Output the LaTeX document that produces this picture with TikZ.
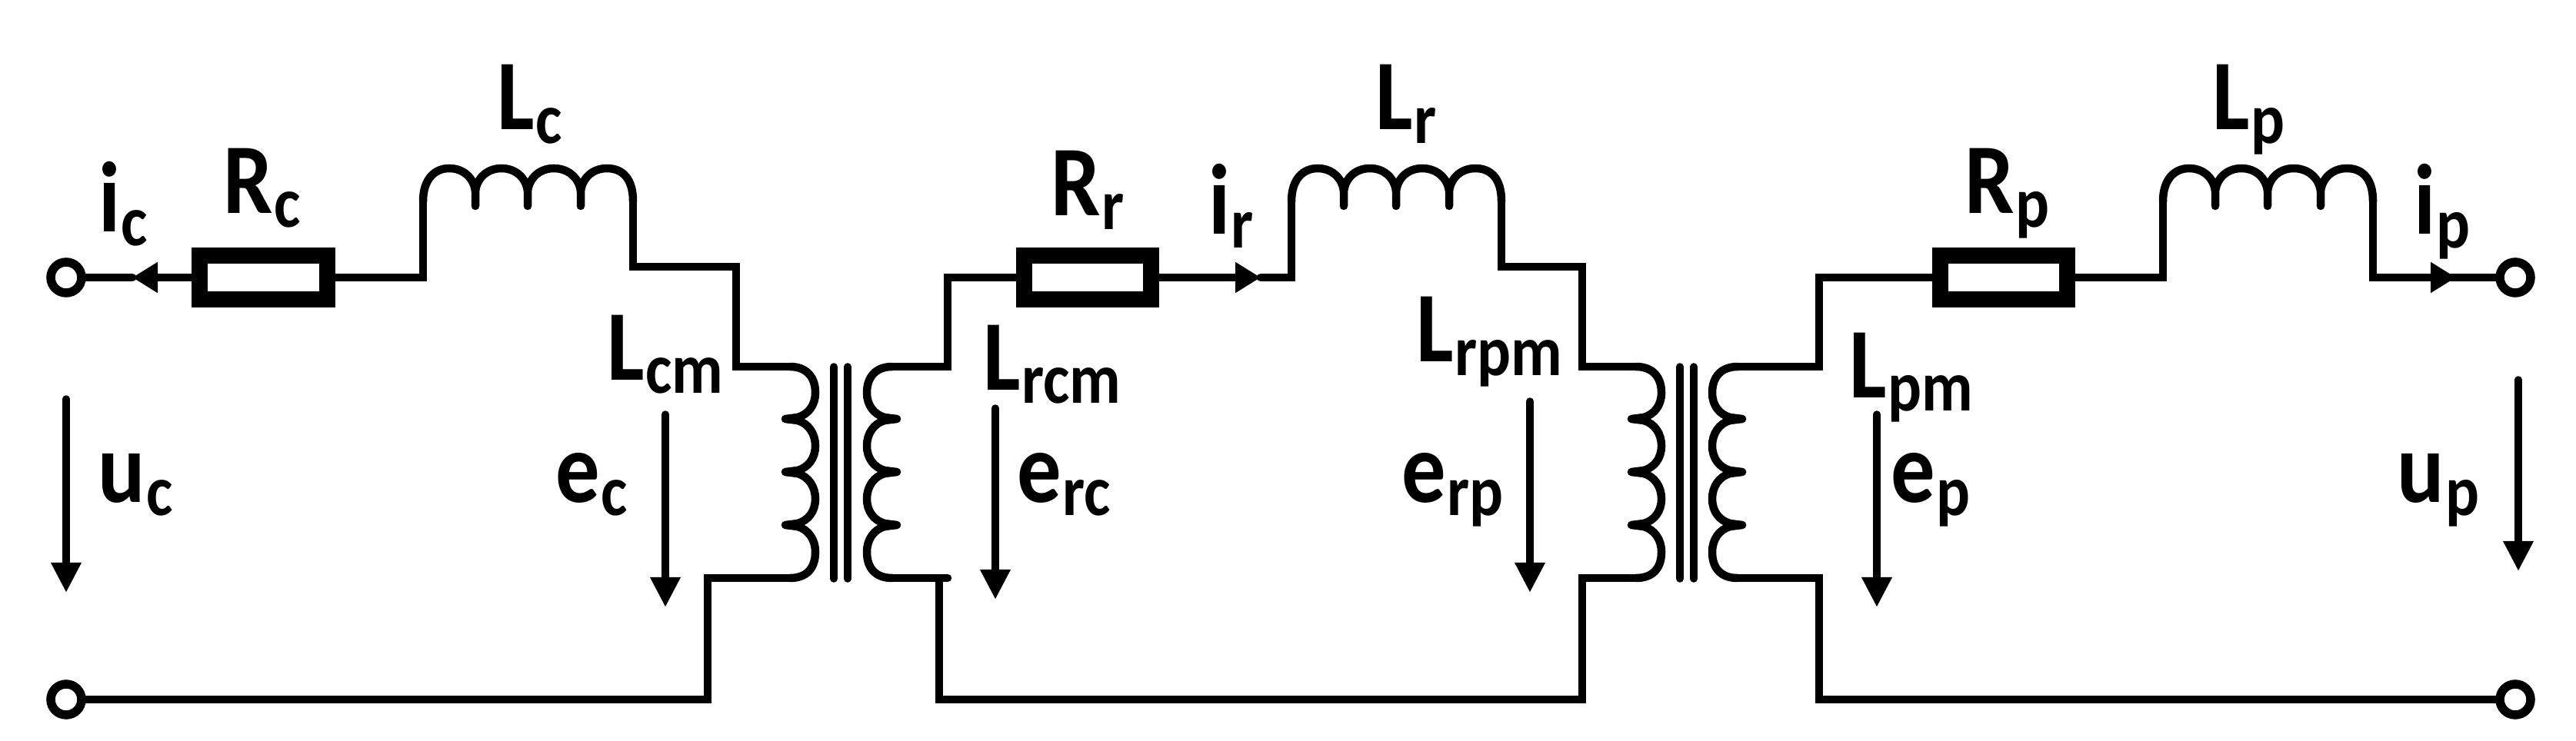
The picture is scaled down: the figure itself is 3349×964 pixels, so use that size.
\documentclass[tikz,border=0pt]{standalone}
\usepackage{fontspec}
\setmainfont{Carlito}
\usetikzlibrary{arrows.meta}
\newcommand\lbl[2]{\scalebox{0.88}[1]{\fontsize{37}{42}\selectfont\bfseries #1\kern0.02cm\raisebox{-0.17cm}{\fontsize{26.5}{30}\selectfont\bfseries #2}}}
\tikzset{
  wire/.style={line width=0.105cm,line join=miter,line cap=round},
  coilline/.style={line width=0.105cm,line join=round,line cap=round},
  term/.style={circle,draw,line width=0.115cm,minimum size=0.40cm,inner sep=0pt,fill=white},
  res/.style={rectangle,draw,line width=0.21cm,minimum width=1.65cm,minimum height=0.56cm,inner sep=0pt,fill=white},
  lab/.style={inner sep=0pt,outer sep=0pt,anchor=base west},
  volt/.style={line width=0.095cm,line cap=round,-{Triangle[length=0.39cm,width=0.37cm]}},
  cur/.style={line width=0.105cm,-{Triangle[length=0.33cm,width=0.38cm]}},
  core/.style={line width=0.095cm,line cap=round},
  coilh/.pic={
    \draw[coilline] (0,43) .. controls (0,13) and (16,0) .. (34,0) .. controls (52,0) and (66,12) .. (68,30) -- (68,49) -- (68,30)
      .. controls (70,12) and (84,0) .. (102,0) .. controls (120,0) and (134,12) .. (136,30) -- (136,49) -- (136,30)
      .. controls (138,12) and (152,0) .. (170,0) .. controls (188,0) and (203,12) .. (205,30) -- (205,49) -- (205,30)
      .. controls (207,12) and (221,0) .. (239,0) .. controls (259,0) and (273,13) .. (273,43);
    \coordinate (-in) at (0,43);
    \coordinate (-out) at (273,43);
  },
  coilv/.pic={
    \draw[coilline] (0,0) .. controls (21,0) and (33,13) .. (33,34) .. controls (33,50) and (24,62) .. (10,66) -- (-6,68) -- (10,70)
      .. controls (24,74) and (33,87) .. (33,103) .. controls (33,119) and (24,131) .. (10,135) -- (-6,137) -- (10,139)
      .. controls (24,143) and (33,156) .. (33,172) .. controls (33,188) and (24,200) .. (10,204) -- (-6,206) -- (10,208)
      .. controls (24,212) and (33,225) .. (33,241) .. controls (33,263) and (21,275) .. (0,275);
    \coordinate (-top) at (0,0);
    \coordinate (-bot) at (0,275);
  },
}
\begin{document}
\begin{tikzpicture}[x=0.01cm,y=-0.01cm]
\useasboundingbox (0,0) rectangle (3349,964);
% terminals
\coordinate (tlc) at (86,361);
\coordinate (blc) at (86,910);
\coordinate (trc) at (3270,361);
\coordinate (brc) at (3270,910);
% coils
\path (550,219) pic (Lc) {coilh};
\path (1679,219) pic (Lr) {coilh};
\path (2812,219) pic (Lp) {coilh};
\path (1027,477) pic (Lcm) {coilv};
\path (1160,477) pic[xscale=-1] (Lrcm) {coilv};
\path (2127,477) pic (Lrpm) {coilv};
\path (2259,477) pic[xscale=-1] (Lpm) {coilv};
% wire corners and arrow tips
\coordinate (ic) at (172,361);
\coordinate (ir) at (1639,361);
\coordinate (ip) at (3193,361);
\coordinate (a1) at (550,361);
\coordinate (a2) at (823,347);
\coordinate (a3) at (957,347);
\coordinate (a4) at (957,477);
\coordinate (b1) at (920,752);
\coordinate (b2) at (920,910);
\coordinate (c1) at (1232,477);
\coordinate (c2) at (1232,361);
\coordinate (c3) at (1679,361);
\coordinate (c4) at (1952,347);
\coordinate (c5) at (2057,347);
\coordinate (c6) at (2057,477);
\coordinate (d0) at (1232,752);
\coordinate (d1) at (1221,752);
\coordinate (d2) at (1221,910);
\coordinate (d3) at (2057,910);
\coordinate (d4) at (2057,752);
\coordinate (e1) at (2365,477);
\coordinate (e2) at (2365,361);
\coordinate (e3) at (2812,361);
\coordinate (e4) at (3085,361);
\coordinate (f1) at (2365,752);
\coordinate (f2) at (2365,910);
% wires
\draw[wire] (blc) -- (b2) -- (b1) -- (Lcm-bot);
\draw[wire] (Lc-in) -- (a1) -- (342,361);
\draw[wire] (Lc-out) -- (a2) -- (a3) -- (a4) -- (Lcm-top);
\draw[wire] (Lrcm-top) -- (c1) -- (c2) -- (1400,361);
\draw[wire] (Lrcm-bot) -- (d0);
\draw[wire] (d1) -- (d2) -- (d3) -- (d4) -- (Lrpm-bot);
\draw[wire] (ir) -- (c3) -- (Lr-in);
\draw[wire] (Lr-out) -- (c4) -- (c5) -- (c6) -- (Lrpm-top);
\draw[wire] (Lpm-top) -- (e1) -- (e2) -- (2600,361);
\draw[wire] (Lpm-bot) -- (f1) -- (f2) -- (brc);
\draw[wire] (2600,361) -- (e3) -- (Lp-in);
\draw[wire] (Lp-out) -- (e4) -- (ip);
\draw[wire] (ic) -- (tlc);
\draw[wire] (ip) -- (trc);
% resistors
\node[res] (Rc) at (342.5,361) {};
\node[res] (Rr) at (1414,361) {};
\node[res] (Rp) at (2605,361) {};
% current arrows
\draw[cur] (Rc) -- (ic);
\draw[cur] (Rr) -- (ir);
\draw[cur] (e4) -- (ip);
% terminal circles
\node[term] (T1) at (tlc) {};
\node[term] (T2) at (blc) {};
\node[term] (T3) at (trc) {};
\node[term] (T4) at (brc) {};
% cores
\coordinate (k1a) at (1084,477); \coordinate (k1b) at (1084,753);
\coordinate (k2a) at (1102,477); \coordinate (k2b) at (1102,753);
\coordinate (k3a) at (2184,477); \coordinate (k3b) at (2184,753);
\coordinate (k4a) at (2202,477); \coordinate (k4b) at (2202,753);
\draw[core] (k1a) -- (k1b);
\draw[core] (k2a) -- (k2b);
\draw[core] (k3a) -- (k3b);
\draw[core] (k4a) -- (k4b);
% voltage arrows
\coordinate (v1a) at (86,519);   \coordinate (v1b) at (86,771);
\coordinate (v2a) at (865,539);  \coordinate (v2b) at (865,790);
\coordinate (v3a) at (1294,531); \coordinate (v3b) at (1294,780);
\coordinate (v4a) at (1989,522); \coordinate (v4b) at (1989,771);
\coordinate (v5a) at (2440,539); \coordinate (v5b) at (2440,790);
\coordinate (v6a) at (3274,494); \coordinate (v6b) at (3274,743);
\draw[volt] (v1a) -- (v1b);
\draw[volt] (v2a) -- (v2b);
\draw[volt] (v3a) -- (v3b);
\draw[volt] (v4a) -- (v4b);
\draw[volt] (v5a) -- (v5b);
\draw[volt] (v6a) -- (v6b);
% labels
\node[lab] (tLc) at (646,169) {\lbl{L}{c}};
\node[lab] (tRc) at (290,278) {\lbl{R}{c}};
\node[lab] (tic) at (128,302) {\lbl{i}{c}};
\node[lab] (tLcm) at (789,494) {\lbl{L}{cm}};
\node[lab] (tuc) at (127,653) {\lbl{u}{c}};
\node[lab] (tec) at (722,653) {\lbl{e}{c}};
\node[lab] (tRr) at (1366,281) {\lbl{R}{r}};
\node[lab] (tir) at (1571,305) {\lbl{i}{r}};
\node[lab] (tLr) at (1788,169) {\lbl{L}{r}};
\node[lab] (tLrcm) at (1278,507) {\lbl{L}{rcm}};
\node[lab] (tLrpm) at (1841,471) {\lbl{L}{rpm}};
\node[lab] (terc) at (1322,653) {\lbl{e}{rc}};
\node[lab] (terp) at (1822,653) {\lbl{e}{rp}};
\node[lab] (tRp) at (2554,278) {\lbl{R}{p}};
\node[lab] (tLp) at (2876,169) {\lbl{L}{p}};
\node[lab] (tip) at (3138,305) {\lbl{i}{p}};
\node[lab] (tLpm) at (2404,517) {\lbl{L}{pm}};
\node[lab] (tep) at (2458,653) {\lbl{e}{p}};
\node[lab] (tup) at (3116,653) {\lbl{u}{p}};
\end{tikzpicture}
\end{document}
